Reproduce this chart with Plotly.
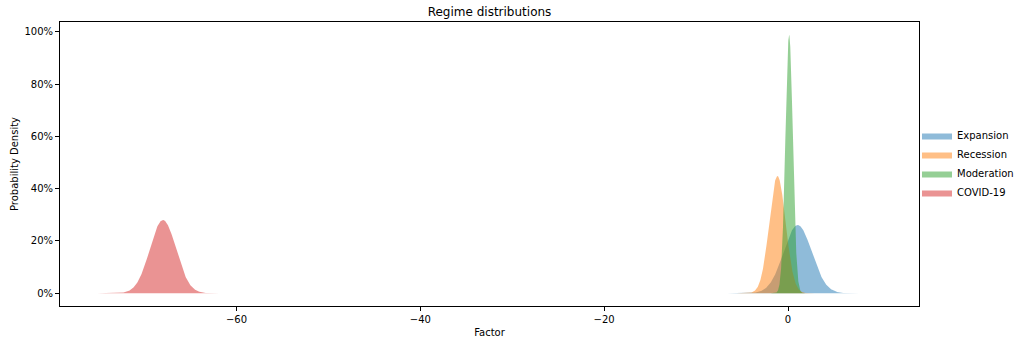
import numpy as np
import plotly.graph_objects as go

regimes = ["Expansion", "Recession", "Moderation", "COVID-19"]
means = [1.05, -1.15, 0.12, -68.0]
sigmas = [1.53, 0.89, 0.404, 1.425]
colors = ["31,119,180", "255,127,14", "44,160,44", "214,39,40"]
x_ticks = [-60, -40, -20, 0]
y_ticks = [0, 0.2, 0.4, 0.6, 0.8, 1.0]

fig = go.Figure()
for name, mu, sd, c in zip(regimes, means, sigmas, colors):
    x = np.linspace(mu - 5 * sd, mu + 5 * sd, 500)
    y = np.exp(-0.5 * ((x - mu) / sd) ** 2) / (sd * np.sqrt(2 * np.pi))
    fig.add_trace(go.Scatter(
        x=x, y=y, name=name, mode="lines", fill="tozeroy",
        line=dict(width=0, color=f"rgba({c},0.5)"), fillcolor=f"rgba({c},0.5)",
        hoverinfo="skip"))

axis_common = dict(showgrid=False, zeroline=False, showline=True, linecolor="black",
                   linewidth=1, mirror=True, ticks="outside", ticklen=4, tickcolor="black",
                   automargin=False,
                   tickfont=dict(size=10, color="black", family="DejaVu Sans"))
fig.update_xaxes(range=[-79.2, 14.25], tickvals=x_ticks,
                 ticktext=["\u221260", "\u221240", "\u221220", "0"],
                 title=dict(text="Factor", font=dict(size=10, color="black", family="DejaVu Sans"), standoff=4),
                 **axis_common)
fig.update_yaxes(range=[-0.0485, 1.037], tickvals=y_ticks, tickformat=".0%",
                 title=dict(text="Probability Density", font=dict(size=10, color="black", family="DejaVu Sans"), standoff=3),
                 **axis_common)
fig.update_layout(
    width=1016, height=341, paper_bgcolor="white", plot_bgcolor="white",
    margin=dict(l=60, r=97, t=22, b=35, autoexpand=False),
    title=dict(text="Regime distributions", x=0.5, xref="paper", xanchor="center",
               y=1 - 12 / 341, yanchor="middle",
               font=dict(size=12, color="black", family="DejaVu Sans")),
    legend=dict(x=0.9977, xanchor="left", y=0.5, yanchor="middle",
                font=dict(size=10, color="black", family="DejaVu Sans"),
                bgcolor="rgba(0,0,0,0)", tracegroupgap=0, itemwidth=30),
    showlegend=True,
)
fig.write_html("out.html", config={"displayModeBar": False},
               post_script="document.body.style.margin='0px';")
